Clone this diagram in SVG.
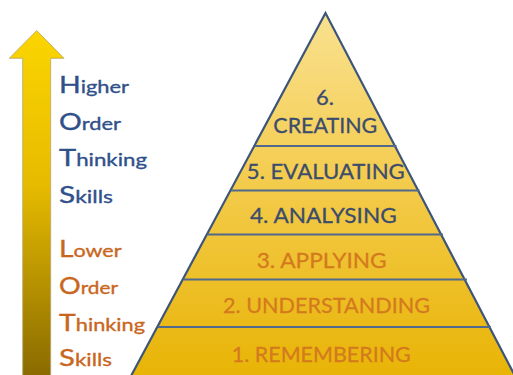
<svg xmlns="http://www.w3.org/2000/svg" width="513" height="375" viewBox="0 0 513 375">
<defs>
<linearGradient id="arrowGrad" x1="0" y1="30" x2="0" y2="375" gradientUnits="userSpaceOnUse">
<stop offset="0" stop-color="#fbd500"/>
<stop offset="0.45" stop-color="#e6bb00"/>
<stop offset="1" stop-color="#8a6b00"/>
</linearGradient>
<linearGradient id="pyrGrad" x1="0" y1="13" x2="0" y2="375" gradientUnits="userSpaceOnUse">
<stop offset="0" stop-color="#f9e190"/>
<stop offset="0.5" stop-color="#f3ca48"/>
<stop offset="1" stop-color="#e8b406"/>
</linearGradient>
</defs>
<style>
.hots{font-family:Lato,"Open Sans",sans-serif;fill:#30508a;stroke:#30508a;stroke-width:0.35}
.lots{font-family:Lato,"Open Sans",sans-serif;fill:#c9661e;stroke:#c9661e;stroke-width:0.35}
.cap{font-size:23.5px}
.rest{font-size:18px}
.lvl{font-family:Lato,"Open Sans",sans-serif;font-size:22px;text-anchor:middle;stroke-width:0.3}
.navy{fill:#3c4c6c;stroke:#3c4c6c}
.orange{fill:#d47a1e;stroke:#d47a1e}
.div{stroke:#50698c;stroke-width:2}
</style>
<rect width="513" height="375" fill="#ffffff"/>
<g id="arrow">
<polygon points="36.7,30.5 64,58.3 50.7,58.3 50.7,376 22.7,376 22.7,58.3 9.3,58.3" fill="url(#arrowGrad)" stroke="#b5a66a" stroke-width="0.8"/>
</g>
<g id="hots">
<text class="hots" y="92.7" x="59" textLength="70" lengthAdjust="spacingAndGlyphs"><tspan class="cap">H</tspan><tspan class="rest">igher</tspan></text>
<text class="hots" y="129.5" x="59" textLength="62" lengthAdjust="spacingAndGlyphs"><tspan class="cap">O</tspan><tspan class="rest">rder</tspan></text>
<text class="hots" y="166" x="59" textLength="88" lengthAdjust="spacingAndGlyphs"><tspan class="cap">T</tspan><tspan class="rest">hinking</tspan></text>
<text class="hots" y="203" x="59" textLength="54" lengthAdjust="spacingAndGlyphs"><tspan class="cap">S</tspan><tspan class="rest">kills</tspan></text>
</g>
<g id="lots">
<text class="lots" y="256.7" x="59" textLength="62.5" lengthAdjust="spacingAndGlyphs"><tspan class="cap">L</tspan><tspan class="rest">ower</tspan></text>
<text class="lots" y="294" x="59" textLength="59" lengthAdjust="spacingAndGlyphs"><tspan class="cap">O</tspan><tspan class="rest">rder</tspan></text>
<text class="lots" y="331" x="59" textLength="86" lengthAdjust="spacingAndGlyphs"><tspan class="cap">T</tspan><tspan class="rest">hinking</tspan></text>
<text class="lots" y="365.5" x="59" textLength="53" lengthAdjust="spacingAndGlyphs"><tspan class="cap">S</tspan><tspan class="rest">kills</tspan></text>
</g>
<g id="pyramid">
<polygon points="325.5,13 131,376 515,376" fill="url(#pyrGrad)" stroke="#3d5578" stroke-width="2.2" stroke-linejoin="miter"/>
</g>
<g id="connectors">
<line class="div" x1="255" y1="146" x2="396.5" y2="146"/>
<line class="div" x1="231" y1="190.5" x2="419.5" y2="190.5"/>
<line class="div" x1="207.5" y1="234.5" x2="443" y2="234.5"/>
<line class="div" x1="183.5" y1="279.5" x2="467" y2="279.5"/>
<line class="div" x1="158" y1="327" x2="491" y2="327"/>
</g>
<g id="level6">
<text class="lvl navy" x="325" y="105">6.</text>
<text class="lvl navy" x="325.3" y="132.7" textLength="104" lengthAdjust="spacingAndGlyphs">CREATING</text>
</g>
<g id="level5">
<text class="lvl navy" x="325.8" y="179.3" textLength="158" lengthAdjust="spacingAndGlyphs">5. EVALUATING</text>
</g>
<g id="level4">
<text class="lvl navy" x="323.3" y="223.3" textLength="146.7" lengthAdjust="spacingAndGlyphs">4. ANALYSING</text>
</g>
<g id="level3">
<text class="lvl orange" x="321.7" y="268.3" textLength="130" lengthAdjust="spacingAndGlyphs">3. APPLYING</text>
</g>
<g id="level2">
<text class="lvl orange" x="326.5" y="313.3" textLength="207" lengthAdjust="spacingAndGlyphs">2. UNDERSTANDING</text>
</g>
<g id="level1">
<text class="lvl orange" x="321.3" y="361.7" textLength="179" lengthAdjust="spacingAndGlyphs">1. REMEMBERING</text>
</g>
</svg>
